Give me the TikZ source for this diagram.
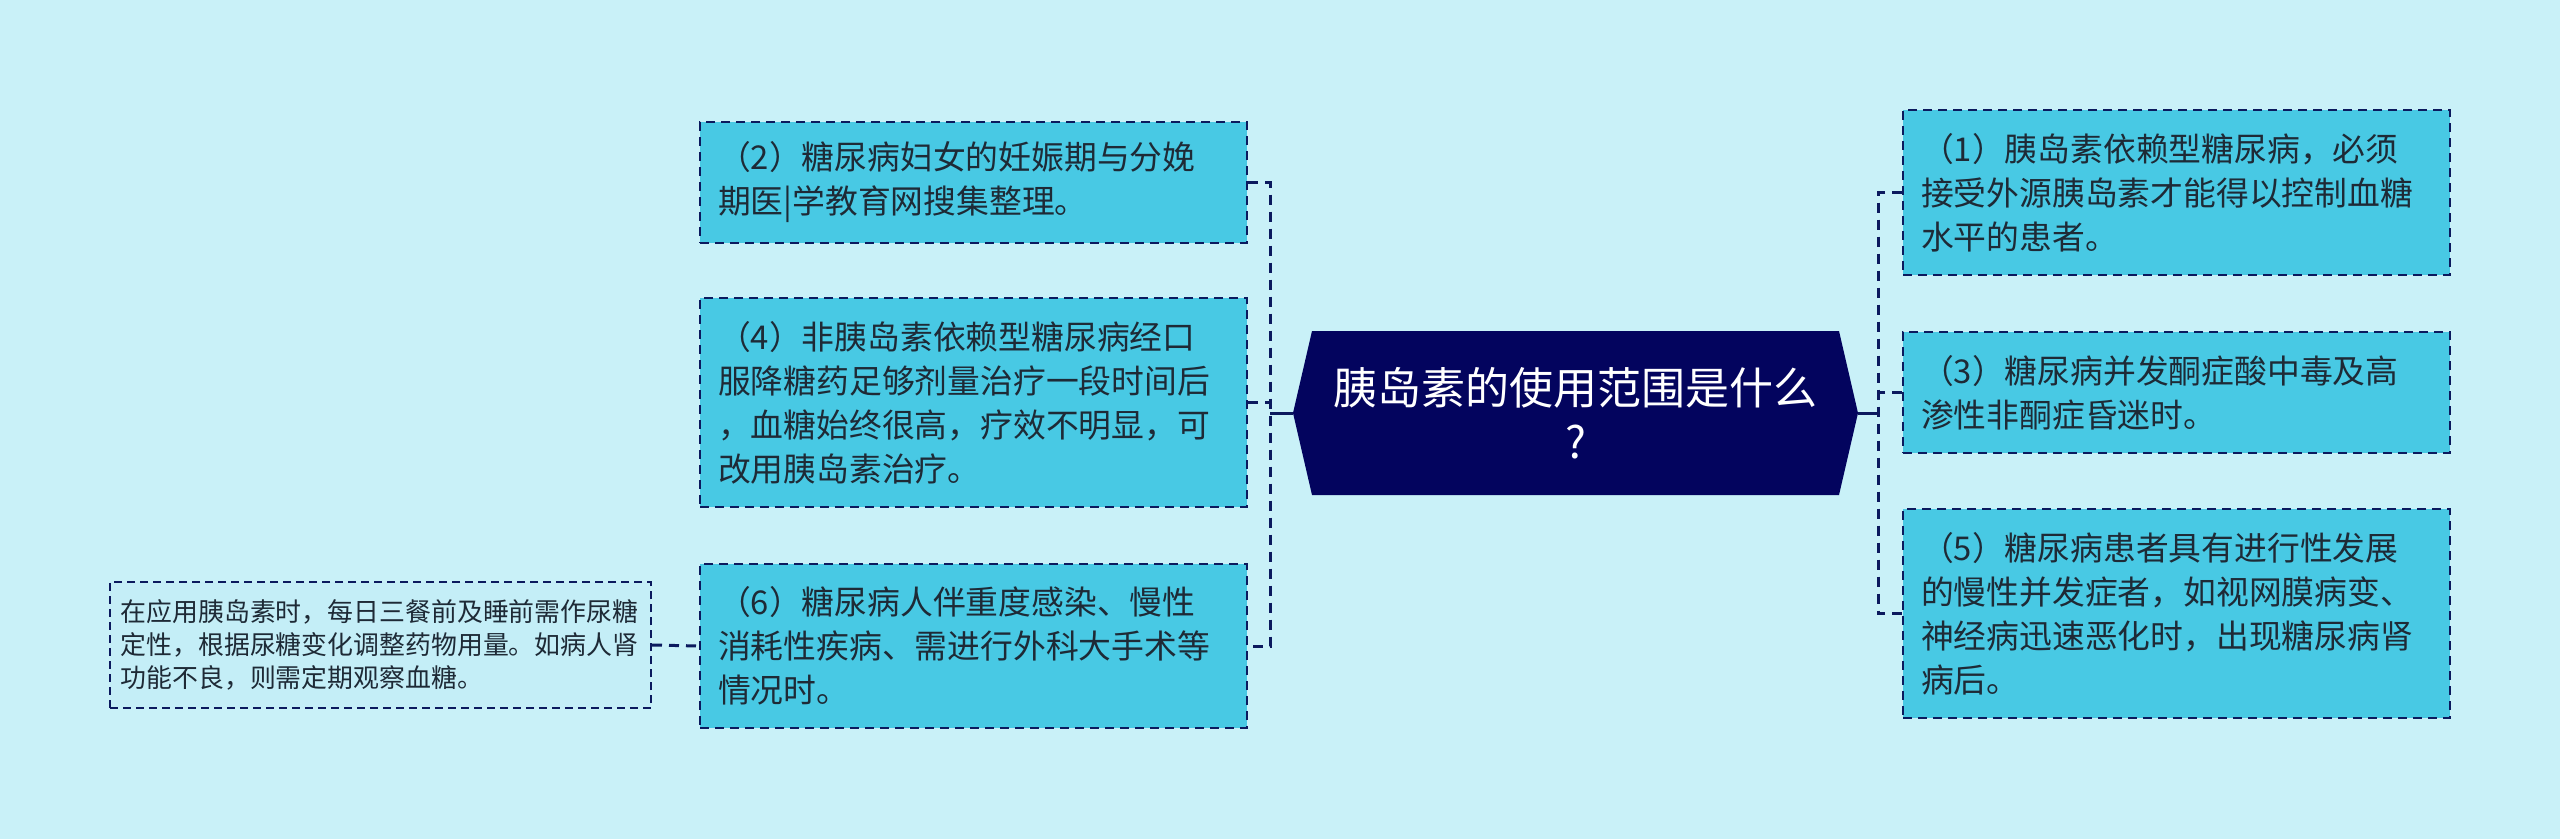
\documentclass[tikz,border=0pt]{standalone}
\usepackage{fontspec}
\newfontfamily\cjk{Noto Sans CJK SC}
\definecolor{bg}{HTML}{C9F1F8}
\definecolor{boxfill}{HTML}{48C9E4}
\definecolor{navy}{HTML}{03045E}
\definecolor{linec}{HTML}{0B1A5E}
\definecolor{txt}{HTML}{1E2A36}
\definecolor{smallfill}{HTML}{C4EEF7}
\begin{document}
\begin{tikzpicture}[x=1pt,y=-1pt,
  box/.style={draw=linec, line width=2pt, dash pattern=on 9pt off 6pt, fill=boxfill,
    anchor=north west, minimum width=547pt, text width=511pt, inner xsep=18pt, inner ysep=0pt,
    align=left, text=txt, font=\cjk\fontsize{32.8}{44}\selectfont},
  smallbox/.style={draw=linec, line width=2pt, dash pattern=on 8pt off 5pt, fill=smallfill,
    anchor=north west, minimum width=541pt, text width=520pt, inner xsep=10.5pt, inner ysep=0pt,
    align=left, text=txt, font=\cjk\fontsize{25.9}{33}\selectfont},
  centertext/.style={minimum width=565pt, minimum height=164pt, inner sep=0pt, align=center,
    text=white, font=\cjk\fontsize{44}{54}\selectfont},
  conn/.style={draw=linec, line width=3pt, dash pattern=on 10pt off 7pt},
  solidconn/.style={draw=linec, line width=3pt}
]
\useasboundingbox (0,0) rectangle (2560,839);
\fill[bg] (0,0) rectangle (2560,839);

% central topic
\fill[navy] (1293,413) -- (1312,331) -- (1839,331) -- (1858,413) -- (1839,495) -- (1312,495) -- cycle;
\node[centertext] (c) at (1575.5,413) {胰岛素的使用范围是什么\\?\hspace{22pt}};

% left boxes
\node[box, minimum height=121pt] (b2) at (699,121) {（2）糖尿病妇女的妊娠期与分娩\\期医|学教育网搜集整理。};
\node[box, minimum height=209pt] (b4) at (699,297) {（4）非胰岛素依赖型糖尿病经口\\服降糖药足够剂量治疗一段时间后\\，血糖始终很高，疗效不明显，可\\改用胰岛素治疗。};
\node[box, minimum height=164pt] (b6) at (699,563) {（6）糖尿病人伴重度感染、慢性\\消耗性疾病、需进行外科大手术等\\情况时。};
\node[smallbox, minimum height=126pt] (s) at (109,581) {在应用胰岛素时，每日三餐前及睡前需作尿糖\\定性，根据尿糖变化调整药物用量。如病人肾\\功能不良，则需定期观察血糖。};

% right boxes
\node[box, minimum height=165pt] (b1) at (1902,109) {（1）胰岛素依赖型糖尿病，必须\\接受外源胰岛素才能得以控制血糖\\水平的患者。};
\node[box, minimum height=121pt] (b3) at (1902,331) {（3）糖尿病并发酮症酸中毒及高\\渗性非酮症昏迷时。};
\node[box, minimum height=209pt] (b5) at (1902,508) {（5）糖尿病患者具有进行性发展\\的慢性并发症者，如视网膜病变、\\神经病迅速恶化时，出现糖尿病肾\\病后。};

% junctions
\coordinate (lj) at (1270,413);
\coordinate (rj) at (1878,413);

% connectors
\draw[solidconn] (c.west) -- (lj);
\draw[conn] (b2.east) -- (b2.east -| lj) -- (b6.east -| lj) -- (b6.east);
\draw[conn] (b4.east) -- (b4.east -| lj);

\draw[solidconn] (c.east) -- (rj);
\draw[conn] (b1.west) -- (b1.west -| rj) -- (b5.west -| rj) -- (b5.west);
\draw[conn] (b3.west) -- (b3.west -| rj);

\draw[conn] (s.east) -- (b6.west);
\end{tikzpicture}
\end{document}
